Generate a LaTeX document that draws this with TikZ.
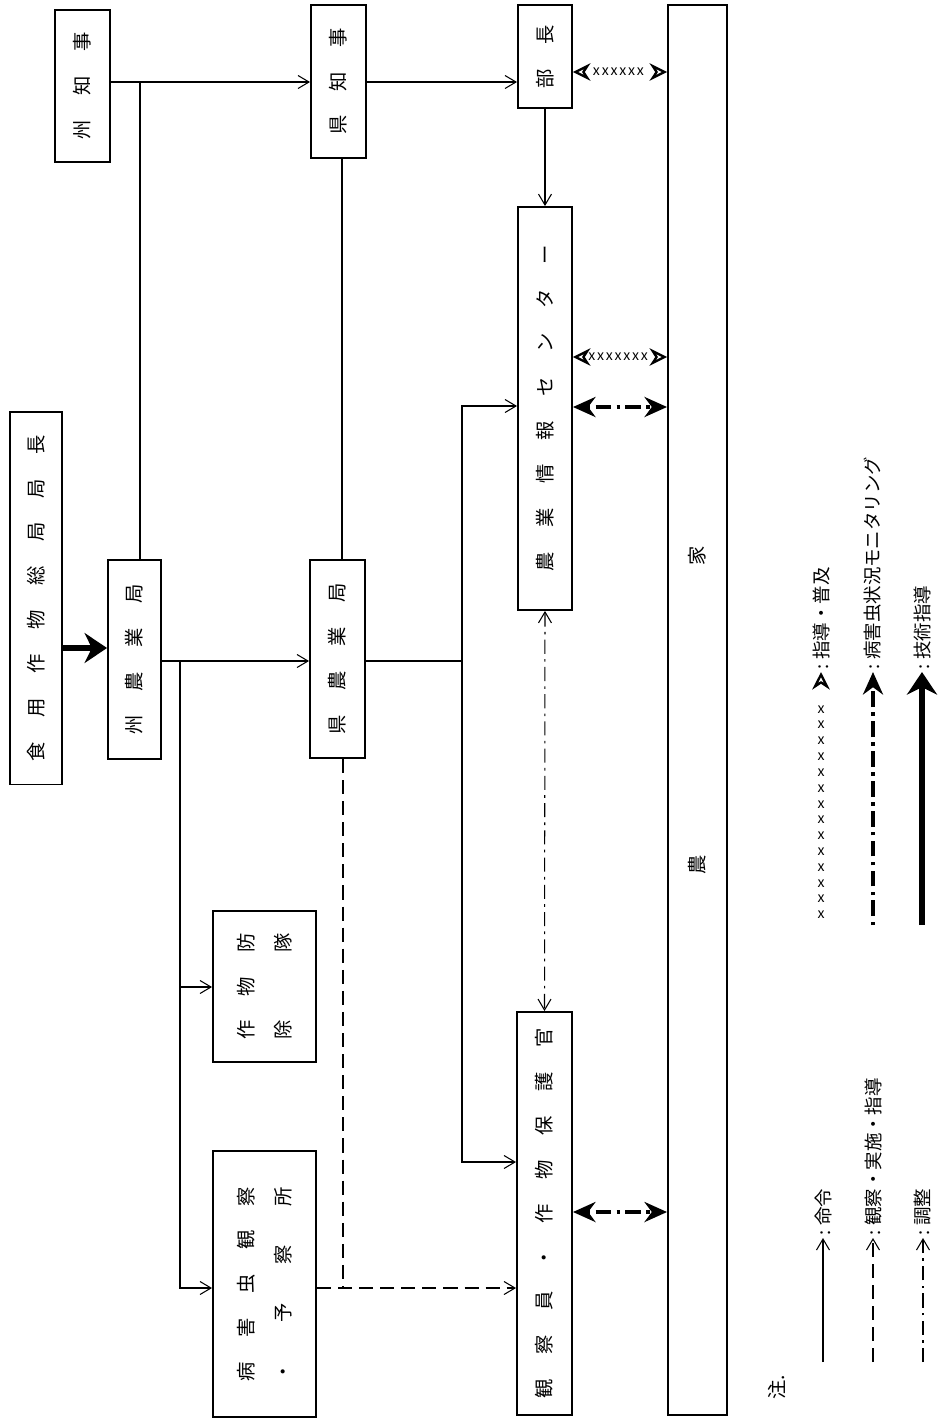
\documentclass[tikz,border=0pt]{standalone}
\usepackage{fontspec}
\usetikzlibrary{arrows.meta,decorations.markings}
\newfontfamily\jp{Noto Sans CJK JP}
\newcommand\gp{\hspace{4.9mm}}

\begin{document}
\begin{tikzpicture}[x=0.02cm,y=-0.02cm,
  box/.style={draw, line width=1.1pt, rotate=90, inner sep=0pt, font=\jp\fontsize{11}{13}\selectfont},
  lgd/.style={rotate=90, anchor=west, inner sep=1.5pt, font=\jp\fontsize{10.5}{12}\selectfont},
  order/.style={line width=0.6pt, -{Straight Barb[length=2.2mm,width=2.6mm]}},
  watch/.style={order, dash pattern=on 8pt off 4pt},
  adjust/.style={line width=0.6pt, dash pattern=on 8pt off 3pt on 1.5pt off 3pt},
  spread/.style n args={3}{line width=1.3pt, dash pattern=on 0pt off 400pt,
    decoration={markings, mark=between positions #1 and #2 step #3 with {\node[inner sep=0pt, font=\jp\fontsize{8}{8}\selectfont] {x};}},
    postaction=decorate},
  monitor/.style={line width=2.2pt, dash pattern=on 2pt off 3pt on 9pt off 3pt},
  skill/.style={line width=3.4pt, -{Stealth[length=4.5mm,width=6mm]}}]
\useasboundingbox (0,0) rectangle (939,1421);
% boxes:
\node[box, minimum width=7.46cm, minimum height=1.04cm] (chokan) at (36,598) {食\gp{}用\gp{}作\gp{}物\gp{}総\gp{}局\gp{}局\gp{}長};
\node[box, minimum width=3.04cm, minimum height=1.10cm] (shuchiji) at (82.5,86) {州\gp{}知\gp{}事};
\node[box, minimum width=3.98cm, minimum height=1.06cm] (shunogyo) at (134.5,659.5) {州\gp{}農\gp{}業\gp{}局};
\node[box, minimum width=3.06cm, minimum height=1.10cm] (kenchiji) at (338.5,81.5) {県\gp{}知\gp{}事};
\node[box, minimum width=3.96cm, minimum height=1.10cm] (kennogyo) at (337.5,659) {県\gp{}農\gp{}業\gp{}局};
\node[box, minimum width=3.02cm, minimum height=2.06cm, align=left] (bojo) at (264.5,986.5) {作\gp{}物\gp{}防\\[8pt]除\gp{}\hphantom{防}\gp{}隊};
\node[box, minimum width=5.32cm, minimum height=2.06cm, align=left] (byogai) at (264.5,1284) {病\gp{}害\gp{}虫\gp{}観\gp{}察\\[8pt]\makebox[3.89cm][l]{・\hfill{}予\hfill{}察\hfill{}所}};
\node[box, minimum width=2.06cm, minimum height=1.08cm] (bucho) at (545,56.5) {部\gp{}長};
\node[box, minimum width=8.06cm, minimum height=1.08cm] (center) at (545,408.5) {農\gp{}業\gp{}情\gp{}報\gp{}セ\gp{}ン\gp{}タ\gp{}ー};
\node[box, minimum width=8.06cm, minimum height=1.10cm] (kansatsu) at (544.5,1213.5) {観\gp{}察\gp{}員\gp{}・\gp{}作\gp{}物\gp{}保\gp{}護\gp{}官};
\node[box, minimum width=28.2cm, minimum height=1.18cm] (noka) at (697.5,710) {農\hspace{5.8cm}家};
% junctions:
\coordinate (j1) at (140,82);
\coordinate (j2) at (180,661);
\coordinate (j3) at (462,406);
\coordinate (j4) at (343,1288);
% connectors:
\draw[skill] (chokan.south |- 0,648) -- (shunogyo.north |- 0,648);
\draw[order] (shuchiji.south |- j1) -- (kenchiji.north |- j1);
\draw[order] (kenchiji.south |- j1) -- (bucho.north |- j1);
\draw[line width=0.6pt] (shunogyo.east -| j1) -- (j1);
\draw[line width=0.6pt] (kenchiji.west -| 342,0) -- (kennogyo.east -| 342,0);
\draw[order] (shunogyo.south |- j2) -- (kennogyo.north |- j2);
\draw[order] (j2) |- (bojo.north |- 0,987);
\draw[order] (j2) |- (byogai.north |- j4);
\draw[order] (kennogyo.south |- j2) -| (j3) -- (center.north |- j3);
\draw[order] (j3) |- (kansatsu.north |- 0,1162);
\draw[order] (bucho.west) -- (center.east);
\draw[watch] (byogai.south |- j4) -- (kansatsu.north |- j4);
\draw[watch, -] (kennogyo.west -| j4) -- (j4);
\draw[adjust, {Straight Barb[length=2.2mm,width=2.6mm]}-{Straight Barb[length=2.2mm,width=2.6mm]}] (center.west) -- (kansatsu.east);
\draw[spread={0.25}{0.76}{5pt}, {Stealth[open,length=3.5mm,width=3.5mm]}-{Stealth[open,length=3.5mm,width=3.5mm]}] (bucho.south |- 0,72) -- (noka.north |- 0,72);
\draw[spread={0.2}{0.8}{5pt}, {Stealth[open,length=3.5mm,width=3.5mm]}-{Stealth[open,length=3.5mm,width=3.5mm]}] (center.south |- 0,357) -- (noka.north |- 0,357);
\draw[monitor, {Stealth[length=4.5mm,width=4mm]}-{Stealth[length=4.5mm,width=4mm]}] (center.south |- 0,407) -- (noka.north |- 0,407);
\draw[monitor, {Stealth[length=4.5mm,width=4mm]}-{Stealth[length=4.5mm,width=4mm]}] (kansatsu.south |- 0,1212) -- (noka.north |- 0,1212);
% legend:
\node[box, draw=none] (chu) at (777,1387) {注.};
\coordinate (k1) at (823,1362);
\coordinate (k2) at (873,1362);
\coordinate (k3) at (923,1362);
\coordinate (k4) at (821,925);
\coordinate (k5) at (873,925);
\coordinate (k6) at (922,925);
\node[lgd] (l1) at (823,1238) {:\ 命令};
\node[lgd] (l2) at (873,1238) {:\ 観察・実施・指導};
\node[lgd] (l3) at (923,1238) {:\ 調整};
\node[lgd] (l4) at (821,672) {:\ 指導・普及};
\node[lgd] (l5) at (873,672) {:\ 病害虫状況モニタリング};
\node[lgd] (l6) at (922,672) {:\ 技術指導};
\draw[order] (k1) -- (l1);
\draw[watch] (k2) -- (l2);
\draw[adjust, -{Straight Barb[length=2.2mm,width=2.6mm]}] (k3) -- (l3);
\draw[spread={0.04}{0.86}{9pt}, -{Stealth[open,length=3.5mm,width=3.5mm]}] (k4) -- (l4);
\draw[monitor, -{Stealth[length=4.5mm,width=4mm]}] (k5) -- (l5);
\draw[skill] (k6) -- (l6);
\end{tikzpicture}
\end{document}
